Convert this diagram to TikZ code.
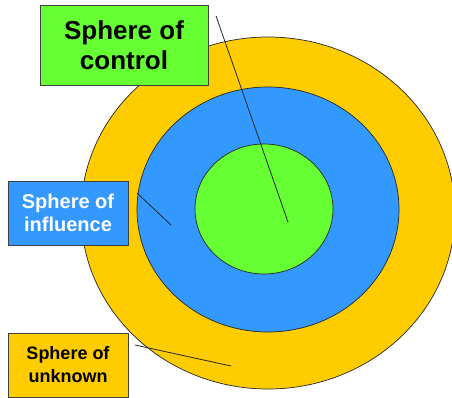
\documentclass[tikz,border=0pt]{standalone}
\usepackage{fontspec}
\setmainfont{Liberation Sans}
\usetikzlibrary{positioning}

\definecolor{unkorange}{HTML}{FFCC00}
\definecolor{inflblue}{HTML}{3399FF}
\definecolor{ctrlgreen}{HTML}{66FF33}

\tikzset{
  ring/.style={draw=black!85, line width=0.7pt},
  label box/.style={draw=black!75, line width=0.9pt, align=center, inner sep=0pt, font=\bfseries},
  pointer/.style={draw=black!85, line width=0.8pt}
}

\begin{document}
\begin{tikzpicture}[x=1pt, y=-1pt]
\useasboundingbox (0,0) rectangle (452,398);
\clip (0,0) rectangle (452,398);

% the three spheres
\filldraw[ring, fill=unkorange] (268,213) ellipse [x radius=187, y radius=176];
\filldraw[ring, fill=inflblue] (268,209.5) ellipse [x radius=131, y radius=122.5];
\filldraw[ring, fill=ctrlgreen] (264,209) ellipse [x radius=69, y radius=65];

% labels
\node (ctrl) [label box, fill=ctrlgreen, minimum width=168pt, minimum height=80pt,
  font=\bfseries\fontsize{26}{30}\selectfont] at (124,45) {Sphere of\\control};
\node (infl) [label box, fill=inflblue, text=white, minimum width=120pt, minimum height=64pt,
  font=\bfseries\fontsize{20}{23}\selectfont] at (68,213) {Sphere of\\influence};
\node (unk) [label box, fill=unkorange, minimum width=120pt, minimum height=64pt,
  font=\bfseries\fontsize{18}{23}\selectfont] at (68,365) {Sphere of\\unknown};

% pointer ends
\coordinate (ctrl-a) at (216,16);
\coordinate (ctrl-b) at (288,222);
\coordinate (infl-a) at (137,193);
\coordinate (infl-b) at (171,225);
\coordinate (unk-a) at (135,345);
\coordinate (unk-b) at (231,366);

\draw[pointer] (ctrl-a) -- (ctrl-b);
\draw[pointer] (infl-a) -- (infl-b);
\draw[pointer] (unk-a) -- (unk-b);
\end{tikzpicture}
\end{document}
